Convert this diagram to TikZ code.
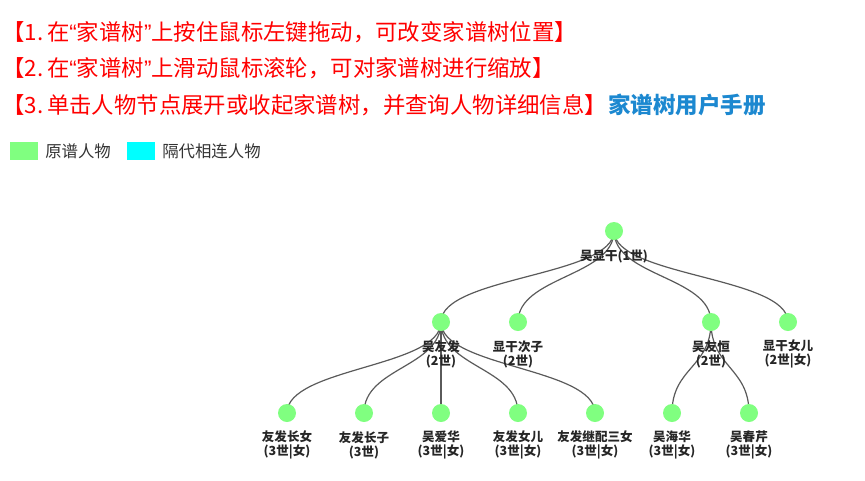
\documentclass[tikz,border=0pt]{standalone}
\usepackage{fontspec}
\setmainfont{Noto Sans CJK SC}
\newfontfamily\qfont{Liberation Sans}
\usetikzlibrary{backgrounds}
\definecolor{nodegreen}{RGB}{128,255,128}
\definecolor{linkcyan}{RGB}{0,255,255}
\definecolor{linkgray}{RGB}{90,90,90}
\definecolor{manualblue}{RGB}{28,136,208}
\definecolor{legendtext}{RGB}{51,51,51}
\newcommand{\myLq}{{\qfont “}}
\newcommand{\myRq}{{\qfont ”}}
\begin{document}
\begin{tikzpicture}[x=0.75pt,y=-0.75pt,
  tip/.style={anchor=west,inner sep=0pt,text=red,font=\fontsize{16.8pt}{19pt}\selectfont},
  manual/.style={anchor=west,inner sep=0pt,text=manualblue,font=\fontsize{16.9pt}{19pt}\selectfont\bfseries},
  legendbox/.style={inner sep=0pt,minimum width=21pt,minimum height=13.5pt},
  legendlabel/.style={anchor=west,inner sep=0pt,text=legendtext,font=\fontsize{12.3pt}{14pt}\selectfont},
  person/.style={circle,fill=nodegreen,inner sep=0pt,minimum size=13.5pt},
  plabel/.style={align=center,inner sep=0pt,text=black!85,font=\fontsize{9.4pt}{10.5pt}\selectfont\bfseries},
  link/.style={draw=linkgray,line width=0.9pt}]
\useasboundingbox (0,0) rectangle (865,480);
% instructions
\node[tip] (t1) at (2,32) {【1.\,在\myLq 家谱树\myRq 上按住鼠标左键拖动，可改变家谱树位置】};
\node[tip] (t2) at (2,68) {【2.\,在\myLq 家谱树\myRq 上滑动鼠标滚轮，可对家谱树进行缩放】};
\node[tip] (t3) at (2,105) {【3.\,单击人物节点展开或收起家谱树，并查询人物详细信息】};
\node[manual] (man) at (608,105) {家谱树用户手册};
% legend
\node[legendbox,fill=nodegreen] (lg1) at (24,151) {};
\node[legendlabel] (lt1) at (45,151) {原谱人物};
\node[legendbox,fill=linkcyan] (lg2) at (141,151) {};
\node[legendlabel] (lt2) at (162,151) {隔代相连人物};
% persons
\node[person] (r) at (614,231) {};
\node[person] (a) at (441,322) {};
\node[person] (b) at (518,322) {};
\node[person] (c) at (711,322) {};
\node[person] (d) at (788,322) {};
\node[person] (a1) at (287,413) {};
\node[person] (a2) at (364,413) {};
\node[person] (a3) at (441,413) {};
\node[person] (a4) at (518,413) {};
\node[person] (a5) at (595,413) {};
\node[person] (c1) at (672,413) {};
\node[person] (c2) at (749,413) {};
% labels
\node[plabel] (lr) at (614,256) {吴显干(1世)};
\node[plabel] (la) at (441,354) {吴友发\\(2世)};
\node[plabel] (lb) at (518,354) {显干次子\\(2世)};
\node[plabel] (lc) at (711,354) {吴友恒\\(2世)};
\node[plabel] (ld) at (788,354) {显干女儿\\(2世|女)};
\node[plabel] (la1) at (287,445) {友发长女\\(3世|女)};
\node[plabel] (la2) at (364,445) {友发长子\\(3世)};
\node[plabel] (la3) at (441,445) {吴爱华\\(3世|女)};
\node[plabel] (la4) at (518,445) {友发女儿\\(3世|女)};
\node[plabel] (la5) at (595,445) {友发继配三女\\(3世|女)};
\node[plabel] (lc1) at (672,445) {吴海华\\(3世|女)};
\node[plabel] (lc2) at (749,445) {吴春芹\\(3世|女)};
% links
\begin{scope}[on background layer]
\foreach \p/\c in {r/a,r/b,r/c,r/d,a/a1,a/a2,a/a3,a/a4,a/a5,c/c1,c/c2}{
  \draw[link] (\p.center) .. controls +(0,45.5) and +(0,-45.5) .. (\c.center);
}
\end{scope}
\end{tikzpicture}
\end{document}
